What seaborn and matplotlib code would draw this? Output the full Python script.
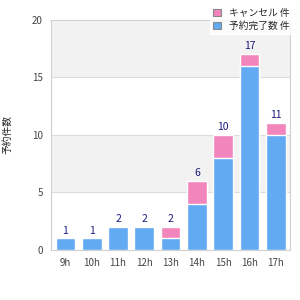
import pandas as pd
import matplotlib
matplotlib.use("Agg")
import matplotlib.pyplot as plt
import seaborn as sns
from matplotlib.patches import Patch

hours = ["9h", "10h", "11h", "12h", "13h", "14h", "15h", "16h", "17h"]
done = [1, 1, 2, 2, 1, 4, 8, 16, 10]
cancel = [0, 0, 0, 0, 1, 2, 2, 1, 1]
legend_labels = ["キャンセル 件", "予約完了数 件"]
y_label = "予約件数"

blue = "#62aaf2"
pink = "#f286bc"

df = pd.DataFrame({"hour": hours, "done": done, "cancel": cancel})
df["total"] = df["done"] + df["cancel"]

sns.set_style("white")
plt.rcParams["font.family"] = ["Noto Sans CJK JP", "DejaVu Sans"]

fig = plt.figure(figsize=(3, 3), dpi=100)
ax = fig.add_axes([0.17, 0.167, 0.797, 0.767])

# alternating bands
for lo, hi in [(5, 10), (15, 20)]:
    ax.axhspan(lo, hi, color="#f2f2f2", zorder=0, lw=0)
for v in [5, 10, 15]:
    ax.axhline(v, color="#dcdcdc", lw=0.8, zorder=0.5)

sns.barplot(data=df, x="hour", y="total", color=pink, saturation=1, width=0.75, ax=ax, zorder=2)
sns.barplot(data=df, x="hour", y="done", color=blue, saturation=1, width=0.75, ax=ax, zorder=3)

for x, t in enumerate(df["total"]):
    ax.text(x, t + 0.25, str(t), ha="center", va="bottom", fontsize=7.5, color="#1a1a80", zorder=4)

ax.set_ylim(0, 20)
ax.set_xlim(-0.55, len(hours) - 0.45)
ax.set_yticks([0, 5, 10, 15, 20])
ax.set_xlabel("")
ax.set_ylabel(y_label, fontsize=7, color="#222222", labelpad=14)
ax.tick_params(axis="both", labelsize=7, colors="#444444", length=0, pad=6)
for s in ax.spines.values():
    s.set_color("#d0d0d0")
    s.set_linewidth(0.8)

handles = [Patch(facecolor=pink, edgecolor="#888888", lw=0.8),
           Patch(facecolor=blue, edgecolor="#888888", lw=0.8)]
leg = fig.legend(handles, legend_labels, loc="upper right", bbox_to_anchor=(0.99, 1.0),
                 fontsize=7, frameon=True, fancybox=False, handlelength=0.8, handleheight=0.8,
                 handletextpad=0.8, labelspacing=0.3, borderpad=0.3)
leg.get_frame().set_facecolor("white")
leg.get_frame().set_edgecolor("white")
leg.set_zorder(10)

fig.savefig("out.png", dpi=100)
